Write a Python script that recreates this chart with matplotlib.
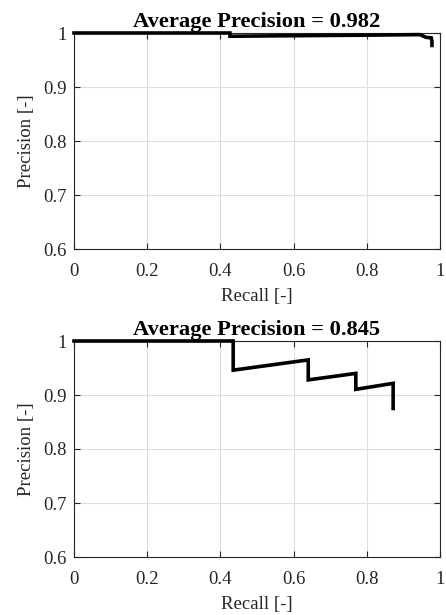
import numpy as np
import matplotlib.pyplot as plt

# datos
rec_a = [0, 0.426, 0.426, 0.60, 0.80, 0.945, 0.955, 0.962, 0.976, 0.978, 0.978]
prec_a = [1.0, 1.0, 0.994, 0.995, 0.996, 0.997, 0.994, 0.992, 0.991, 0.985, 0.977]
ap_a = 0.982

rec_b = [0, 0.435, 0.435, 0.640, 0.640, 0.770, 0.770, 0.872, 0.872]
prec_b = [1.0, 1.0, 0.946, 0.965, 0.928, 0.940, 0.9105, 0.9216, 0.875]
ap_b = 0.845

xticks = [0, 0.2, 0.4, 0.6, 0.8, 1]
yticks = [0.6, 0.7, 0.8, 0.9, 1]

plt.rcParams['font.family'] = 'Liberation Serif'
plt.rcParams['font.size'] = 13.5

fig = plt.figure(figsize=(4.46, 6.15), dpi=100)
W, H = 446., 615.
ax1 = fig.add_axes([74/W, 1-249/H, 366/W, 216/H])
ax2 = fig.add_axes([74/W, 1-557/H, 366/W, 216/H])

for ax, r, p, ap in [(ax1, rec_a, prec_a, ap_a), (ax2, rec_b, prec_b, ap_b)]:
    ax.plot(r, p, '-', color='k', lw=2.6, solid_joinstyle='miter', clip_on=False, zorder=5)
    ax.set_xlim(0, 1)
    ax.set_ylim(0.6, 1)
    ax.set_xticks(xticks)
    ax.set_yticks(yticks)
    ax.set_xticklabels(['%g' % t for t in xticks])
    ax.set_yticklabels(['%g' % t for t in yticks])
    ax.grid(True, color='#dedede', lw=0.8)
    ax.set_axisbelow(True)
    ax.tick_params(direction='in', length=4, width=0.8, top=True, right=True,
                   colors='#262626', labelcolor='#262626')
    ax.tick_params(axis='x', pad=10)
    ax.tick_params(axis='y', pad=5)
    for s in ax.spines.values():
        s.set_color('#262626')
        s.set_linewidth(0.8)
    ax.set_xlabel('Recall [-]', color='#262626', labelpad=6)
    ax.set_ylabel('Precision [-]', color='#262626', labelpad=6)
    ax.set_title('Average Precision = %.3f' % ap, fontweight='bold', pad=4)

fig.savefig('out.png', dpi=100)
